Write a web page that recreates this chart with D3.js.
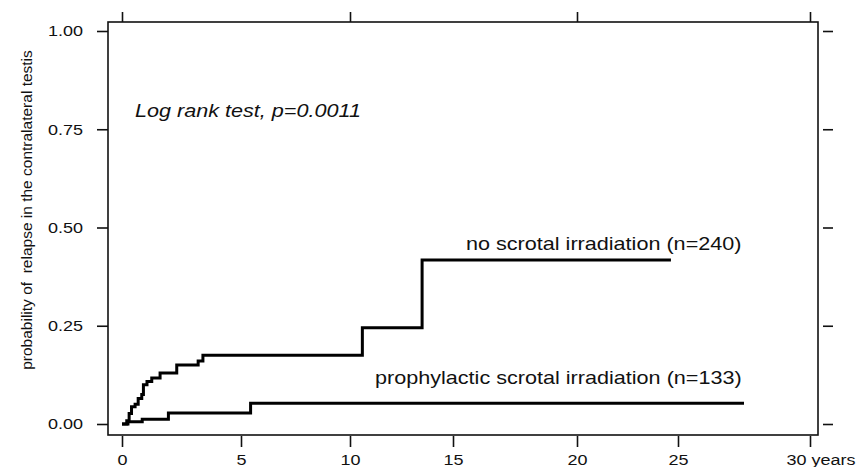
<!DOCTYPE html>
<html>
<head>
<meta charset="utf-8">
<script src="https://cdn.jsdelivr.net/npm/d3@7"></script>
<style>
  html, body { margin: 0; padding: 0; background: #fff; }
  svg { display: block; }
  text { font-family: "Liberation Sans", Arial, sans-serif; fill: #111; }
</style>
</head>
<body>
<svg id="chart" width="859" height="467"></svg>
<script>
// ---- data ----
const xTicks = [0, 5, 10, 15, 20, 25, 30];
const xTickLabels = ["0", "5", "10", "15", "20", "25", "30 years"];
const xTopTicks = [0, 10, 20, 30];
const yTicks = [0, 0.25, 0.5, 0.75, 1];
const yTickLabels = ["0.00", "0.25", "0.50", "0.75", "1.00"];

const noIrrTimes  = [0, 0.2, 0.3, 0.4, 0.55, 0.68, 0.83, 0.9, 1.05, 1.25, 1.6, 2.3, 3.2, 3.4, 10.6, 13.5, 24.65];
const noIrrValues = [0, 0.008, 0.027, 0.044, 0.05, 0.065, 0.075, 0.1, 0.108, 0.117, 0.13, 0.15, 0.16, 0.175, 0.245, 0.417, 0.417];

const proIrrTimes  = [0, 0.25, 0.85, 1.95, 5.44, 27.5];
const proIrrValues = [0, 0.006, 0.012, 0.028, 0.053, 0.053];

const seriesLabels = ["no scrotal irradiation (n=240)", "prophylactic scrotal irradiation (n=133)"];
const annotation = "Log rank test, p=0.0011";
const yTitle = "probability of  relapse in the contralateral testis";

// ---- layout ----
const SX = 1.2; // horizontal stretch of the scanned lettering
const frame = {left: 108, top: 22, right: 818, bottom: 435};
const svg = d3.select("#chart");

const x = d3.scaleLinear().domain(xTicks).range([122, 241, 350, 453, 577, 678, 810]);
const y = d3.scaleLinear().domain([0, 1]).range([424, 31]);

function stretch(sel) {
  sel.each(function() {
    const t = d3.select(this);
    const xx = +t.attr("x") || 0;
    t.attr("x", xx / SX).attr("transform", `scale(${SX},1)`);
  });
}

// frame
svg.append("rect")
  .attr("x", frame.left).attr("y", frame.top)
  .attr("width", frame.right - frame.left).attr("height", frame.bottom - frame.top)
  .attr("fill", "none").attr("stroke", "#111").attr("stroke-width", 1.6);

// left axis
const gL = svg.append("g").attr("transform", `translate(${frame.left},0)`)
  .call(d3.axisLeft(y).tickValues(yTicks).tickSize(11).tickPadding(14)
        .tickFormat((d, i) => yTickLabels[i]));
gL.select(".domain").remove();
gL.selectAll(".tick line").attr("stroke", "#111").attr("stroke-width", 1.6);
gL.selectAll(".tick text").attr("font-size", 15).attr("font-family", "Liberation Sans").call(stretch);

// right axis (ticks only, detached from the frame)
const gR = svg.append("g").attr("transform", `translate(${frame.right + 5},0)`)
  .call(d3.axisRight(y).tickValues(yTicks).tickSize(10).tickFormat(""));
gR.select(".domain").remove();
gR.selectAll(".tick line").attr("stroke", "#111").attr("stroke-width", 1.6);

// bottom axis
const gB = svg.append("g").attr("transform", `translate(0,${frame.bottom + 1})`)
  .call(d3.axisBottom(x).tickValues(xTicks).tickSize(11).tickPadding(7)
        .tickFormat((d, i) => xTickLabels[i]));
gB.select(".domain").remove();
gB.selectAll(".tick line").attr("stroke", "#111").attr("stroke-width", 1.6);
gB.selectAll(".tick text").attr("font-size", 15).attr("font-family", "Liberation Sans")
  .attr("text-anchor", (d) => d === 30 ? "start" : "middle")
  .attr("x", (d) => d === 30 ? -24 : 0)
  .call(stretch);

// top axis (ticks only)
const gT = svg.append("g").attr("transform", `translate(0,${frame.top})`)
  .call(d3.axisTop(x).tickValues(xTopTicks).tickSize(10).tickFormat(""));
gT.select(".domain").remove();
gT.selectAll(".tick line").attr("stroke", "#111").attr("stroke-width", 1.6);

// curves
const line = d3.line().x(d => x(d[0])).y(d => y(d[1])).curve(d3.curveStepAfter);
const noIrr = noIrrTimes.map((t, i) => [t, noIrrValues[i]]);
const proIrr = proIrrTimes.map((t, i) => [t, proIrrValues[i]]);
[noIrr, proIrr].forEach(s => {
  svg.append("path").datum(s).attr("d", line)
    .attr("fill", "none").attr("stroke", "#000").attr("stroke-width", 3)
    .attr("stroke-linejoin", "miter");
});

// texts
function stretchedText(tx, ty, str, opts) {
  const g = svg.append("g").attr("transform", `translate(${tx},${ty}) scale(${SX},1)`);
  const t = g.append("text").attr("x", 0).attr("y", 0).attr("font-size", opts.size).text(str);
  if (opts.italic) t.attr("font-style", "italic");
  return t;
}
stretchedText(135, 117, annotation, {size: 18, italic: true});
stretchedText(466, 250, seriesLabels[0], {size: 18});
stretchedText(375, 384, seriesLabels[1], {size: 18});

// y title
svg.append("text")
  .attr("transform", `translate(32,210) rotate(-90)`)
  .attr("text-anchor", "middle")
  .attr("font-size", 15.5)
  .style("white-space", "pre")
  .text(yTitle);
</script>
</body>
</html>
